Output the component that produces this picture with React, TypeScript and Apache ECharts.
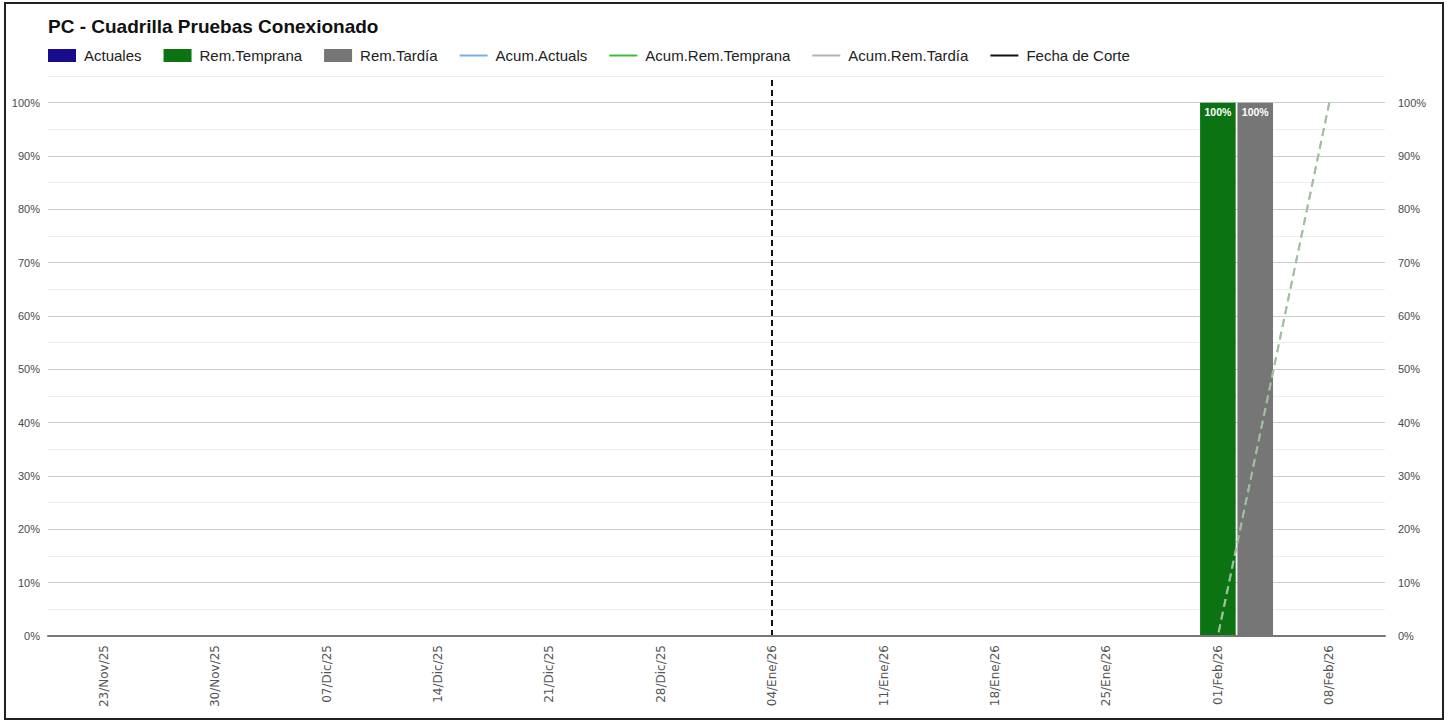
import React, { useEffect, useRef } from "react";
import * as echarts from "echarts";

// Weekly categories (week start dates)
const weeks = [
  "23/Nov/25", "30/Nov/25", "07/Dic/25", "14/Dic/25", "21/Dic/25", "28/Dic/25",
  "04/Ene/26", "11/Ene/26", "18/Ene/26", "25/Ene/26", "01/Feb/26", "08/Feb/26",
];

// Weekly progress (%)
const actuales = [0, 0, 0, 0, 0, 0, 0, 0, 0, 0, 0, 0];
const remTemprana = [0, 0, 0, 0, 0, 0, 0, 0, 0, 0, 100, 0];
const remTardia = [0, 0, 0, 0, 0, 0, 0, 0, 0, 0, 100, 0];

// Cumulative progress (%)
const acumActuals = [0, 0, 0, 0, 0, 0, 0, null, null, null, null, null];
const acumRemTemprana = [0, 0, 0, 0, 0, 0, 0, 0, 0, 0, 0, 100];
const acumRemTardia = [0, 0, 0, 0, 0, 0, 0, 0, 0, 0, 0, 100];

// Cut-off week
const fechaCorte = "04/Ene/26";

const FONT = "'Liberation Sans', Arial, sans-serif";
const LINE_ICON = "path://M0,0H28V2H0Z";

const pctLabel = (v: number) => (v % 10 === 0 ? `${v}%` : "");

export default function App() {
  const ref = useRef<HTMLDivElement>(null);

  useEffect(() => {
    if (!ref.current) return;
    const chart = echarts.init(ref.current, null, { renderer: "svg" });

    const barLabel = {
      show: true,
      position: "insideTop",
      distance: 4,
      color: "#ffffff",
      fontFamily: FONT,
      fontWeight: "bold",
      fontSize: 10.5,
      formatter: (p: any) => (p.value ? `${p.value}%` : ""),
    };

    chart.setOption({
      animation: false,
      backgroundColor: "#ffffff",
      title: {
        text: "PC - Cuadrilla Pruebas Conexionado",
        left: 48,
        top: 17,
        padding: 0,
        textStyle: { fontFamily: FONT, fontSize: 19, fontWeight: "bold", color: "#111" },
      },
      legend: {
        left: 48,
        top: 48,
        padding: 0,
        itemWidth: 28,
        itemHeight: 13,
        itemGap: 22,
        textStyle: { fontFamily: FONT, fontSize: 15, color: "#222", padding: [0, 0, 0, 3] },
        data: [
          { name: "Actuales", icon: "rect" },
          { name: "Rem.Temprana", icon: "rect" },
          { name: "Rem.Tardía", icon: "rect" },
          { name: "Acum.Actuals", icon: LINE_ICON },
          { name: "Acum.Rem.Temprana", icon: LINE_ICON },
          { name: "Acum.Rem.Tardía", icon: LINE_ICON },
          { name: "Fecha de Corte", icon: LINE_ICON },
        ],
      },
      graphic: [
        {
          type: "rect",
          shape: { x: 5, y: 3, width: 1438, height: 716 },
          style: { fill: "none", stroke: "#222", lineWidth: 2 },
          silent: true,
        },
      ],
      grid: { left: 48, right: 65, top: 76, bottom: 86, containLabel: false },
      xAxis: {
        type: "category",
        data: weeks,
        z: 5,
        axisLine: { lineStyle: { color: "#777", width: 2 } },
        axisTick: { show: false },
        axisLabel: {
          rotate: 90,
          margin: 9,
          fontFamily: "'DejaVu Sans', sans-serif",
          fontSize: 12,
          color: "#555",
        },
        splitLine: { show: false },
      },
      yAxis: [
        {
          type: "value",
          min: 0,
          max: 105,
          interval: 5,
          axisLine: { show: false },
          axisTick: { show: false },
          axisLabel: { formatter: pctLabel, margin: 8, fontFamily: FONT, fontSize: 11, color: "#4a4a4a" },
          splitLine: { lineStyle: { color: ["#cccccc", "#eeeeee"], width: 1 } },
        },
        {
          type: "value",
          min: 0,
          max: 105,
          interval: 5,
          position: "right",
          axisLine: { show: false },
          axisTick: { show: false },
          axisLabel: { formatter: pctLabel, margin: 13, fontFamily: FONT, fontSize: 11, color: "#4a4a4a" },
          splitLine: { show: false },
        },
      ],
      series: [
        {
          name: "Actuales",
          type: "bar",
          data: actuales,
          itemStyle: { color: "#180c8a" },
          barGap: "5%",
          barCategoryGap: "1%",
          label: barLabel,
        },
        {
          name: "Rem.Temprana",
          type: "bar",
          data: remTemprana,
          itemStyle: { color: "#0b7312" },
          label: barLabel,
        },
        {
          name: "Rem.Tardía",
          type: "bar",
          data: remTardia,
          itemStyle: { color: "#767676" },
          label: barLabel,
        },
        {
          name: "Acum.Actuals",
          type: "line",
          data: acumActuals,
          symbol: "none",
          itemStyle: { color: "#74b1e4" },
          lineStyle: { color: "#74b1e4", width: 2 },
        },
        {
          name: "Acum.Rem.Temprana",
          type: "line",
          data: acumRemTemprana,
          symbol: "none",
          itemStyle: { color: "#3dbd3d" },
          lineStyle: { color: "#8fcf8f", width: 2, type: [8, 5] },
        },
        {
          name: "Acum.Rem.Tardía",
          type: "line",
          data: acumRemTardia,
          symbol: "none",
          itemStyle: { color: "#b3b3b3" },
          lineStyle: { color: "#a6b8a6", width: 2, type: [8, 5], opacity: 0.8 },
        },
        {
          name: "Fecha de Corte",
          type: "line",
          data: [],
          symbol: "none",
          itemStyle: { color: "#111111" },
          lineStyle: { color: "#111111", width: 2 },
          markLine: {
            silent: true,
            symbol: ["none", "none"],
            label: { show: false },
            lineStyle: { color: "#111111", width: 2, type: [6, 4] },
            data: [{ xAxis: fechaCorte }],
          },
        },
      ],
    });

    return () => chart.dispose();
  }, []);

  return (
    <div style={{ position: "fixed", left: 0, top: 0, width: 1450, height: 722, background: "#fff" }}>
      <div ref={ref} style={{ width: 1450, height: 722 }} />
    </div>
  );
}
